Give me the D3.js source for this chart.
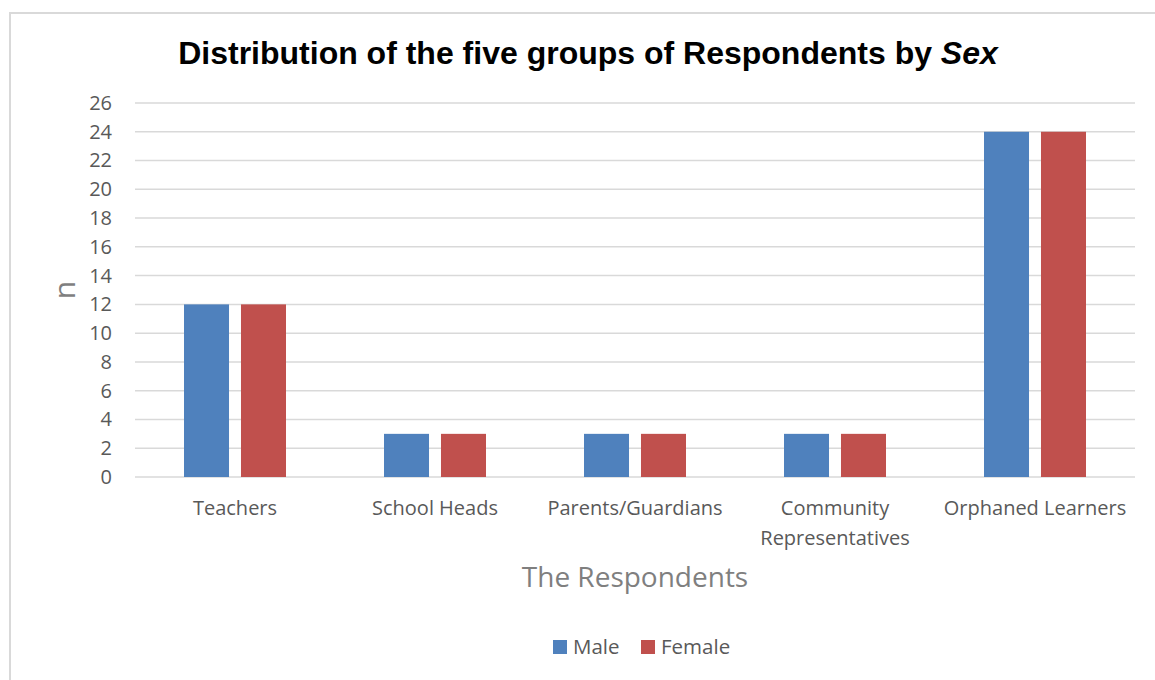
<!DOCTYPE html>
<html>
<head>
<meta charset="utf-8">
<script src="https://cdn.jsdelivr.net/npm/d3@7"></script>
<style>
  body { margin: 0; background: #fff; }
  svg text { font-family: 'Open Sans', 'Noto Sans', sans-serif; }
</style>
</head>
<body>
<div id="chart"></div>
<script>
const categories = ['Teachers', 'School Heads', 'Parents/Guardians', 'Community Representatives', 'Orphaned Learners'];
const seriesNames = ['Male', 'Female'];
const maleValues = [12, 3, 3, 3, 24];
const femaleValues = [12, 3, 3, 3, 24];
const yTicks = [0, 2, 4, 6, 8, 10, 12, 14, 16, 18, 20, 22, 24, 26];
const colors = ['#4f81bd', '#c0504d'];

const W = 1155;
const H = 680;
const margin = { top: 103, right: 20, bottom: 203, left: 135 };
const plotW = 1000;
const plotH = H - margin.top - margin.bottom;

const svg = d3.select('#chart').append('svg')
    .attr('width', W)
    .attr('height', H);

// chart frame
svg.append('rect')
    .attr('x', 10)
    .attr('y', 13)
    .attr('width', W + 10)
    .attr('height', H + 10)
    .attr('fill', '#fff')
    .attr('stroke', '#d9d9d9')
    .attr('stroke-width', 2);

const title = svg.append('text')
    .attr('x', 588)
    .attr('y', 64)
    .attr('text-anchor', 'middle')
    .style('font-family', "'Liberation Sans', Arial, sans-serif")
    .style('font-size', '32px')
    .style('font-weight', 'bold')
    .attr('fill', '#000');
title.append('tspan').text('Distribution of the five groups of Respondents by ');
title.append('tspan').style('font-style', 'italic').text('Sex');

const g = svg.append('g')
    .attr('transform', `translate(${margin.left},${margin.top})`);

const x0 = d3.scaleBand()
    .domain(categories)
    .range([0, plotW]);

const x1 = d3.scaleBand()
    .domain(seriesNames)
    .range([49, 151])
    .paddingInner(0.21);

const y = d3.scaleLinear()
    .domain([0, 26])
    .range([plotH, 0]);

// gridlines
g.selectAll('.grid')
    .data(yTicks)
    .enter().append('line')
    .attr('class', 'grid')
    .attr('x1', 0)
    .attr('x2', plotW)
    .attr('y1', d => y(d))
    .attr('y2', d => y(d))
    .attr('stroke', '#d9d9d9')
    .attr('stroke-width', 1.5);

const yAxis = g.append('g')
    .call(d3.axisLeft(y).tickValues(yTicks).tickSize(0).tickPadding(23));
yAxis.select('.domain').remove();
yAxis.selectAll('text')
    .style('font-size', '20px')
    .attr('fill', '#595959');

const rows = categories.map((c, i) => ({
    cat: c,
    vals: [maleValues[i], femaleValues[i]],
}));

const groups = g.selectAll('.cat')
    .data(rows)
    .enter().append('g')
    .attr('class', 'cat')
    .attr('transform', d => `translate(${x0(d.cat)},0)`);

groups.selectAll('rect')
    .data(d => d.vals.map((v, j) => ({ key: seriesNames[j], v, j })))
    .enter().append('rect')
    .attr('x', d => x1(d.key))
    .attr('width', x1.bandwidth())
    .attr('y', d => y(d.v))
    .attr('height', d => y(0) - y(d.v))
    .attr('fill', d => colors[d.j]);

// category labels (wrapped like the original)
const labelLines = {
    'Community Representatives': ['Community', 'Representatives'],
};
groups.append('text')
    .attr('text-anchor', 'middle')
    .attr('x', x0.bandwidth() / 2)
    .attr('y', plotH + 38)
    .style('font-size', '20px')
    .attr('fill', '#595959')
    .each(function (d) {
        const lines = labelLines[d.cat] || [d.cat];
        lines.forEach((line, k) => {
            d3.select(this).append('tspan')
                .attr('x', x0.bandwidth() / 2)
                .attr('dy', k === 0 ? 0 : 30)
                .text(line);
        });
    });

// axis titles
svg.append('text')
    .attr('x', margin.left + plotW / 2)
    .attr('y', 587)
    .attr('text-anchor', 'middle')
    .style('font-size', '28px')
    .attr('fill', '#7f7f7f')
    .text('The Respondents');

svg.append('text')
    .attr('transform', 'translate(75,290) rotate(-90)')
    .attr('text-anchor', 'middle')
    .style('font-size', '30px')
    .attr('fill', '#7f7f7f')
    .text('n');

// legend
const legend = svg.append('g').attr('transform', 'translate(553,640)');
const legendX = [0, 88];
seriesNames.forEach((name, i) => {
    const item = legend.append('g').attr('transform', `translate(${legendX[i]},0)`);
    item.append('rect')
        .attr('width', 14)
        .attr('height', 14)
        .attr('fill', colors[i]);
    item.append('text')
        .attr('x', 20)
        .attr('y', 14)
        .style('font-size', '20.5px')
        .attr('fill', '#595959')
        .text(name);
});
</script>
</body>
</html>
